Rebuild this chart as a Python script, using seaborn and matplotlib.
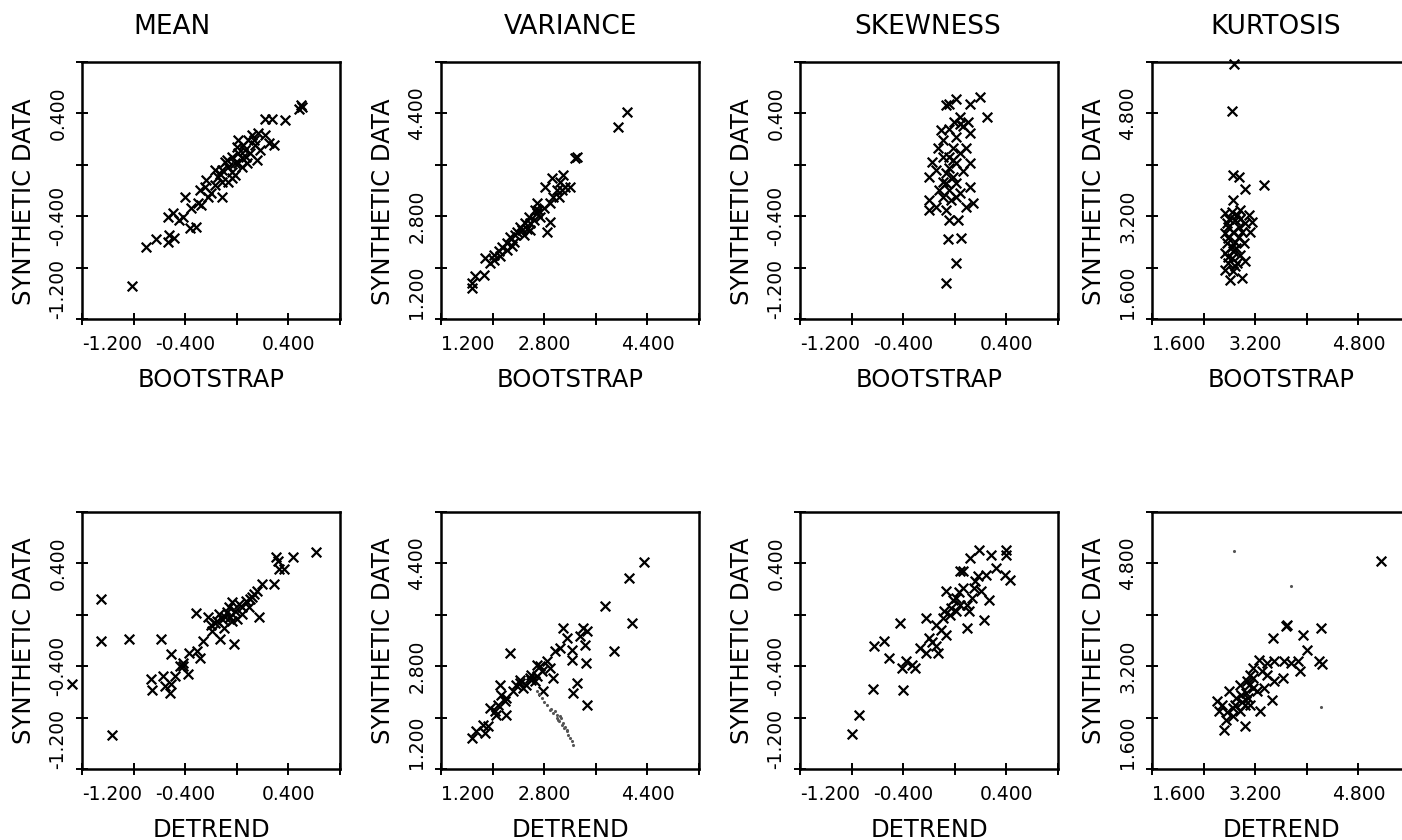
import numpy as np
import pandas as pd
import seaborn as sns
import matplotlib
matplotlib.use("Agg")
import matplotlib.pyplot as plt
from matplotlib import font_manager

# text
stats = ["MEAN", "VARIANCE", "SKEWNESS", "KURTOSIS"]
methods = ["BOOTSTRAP", "DETREND"]
ylabel = "SYNTHETIC DATA"

# ticks per statistic (first and last tick are the axis limits)
ticks = {
    "MEAN": [-1.2, -0.8, -0.4, 0.0, 0.4, 0.8],
    "VARIANCE": [1.2, 2.0, 2.8, 3.6, 4.4, 5.2],
    "SKEWNESS": [-1.2, -0.8, -0.4, 0.0, 0.4, 0.8],
    "KURTOSIS": [1.6, 2.4, 3.2, 4.0, 4.8, 5.6],
}
tick_labels = {
    "MEAN": ["-1.200", "", "-0.400", "", "0.400", ""],
    "VARIANCE": ["1.200", "", "2.800", "", "4.400", ""],
    "SKEWNESS": ["-1.200", "", "-0.400", "", "0.400", ""],
    "KURTOSIS": ["1.600", "", "3.200", "", "4.800", ""],
}

# (x, y) pairs
mean_boot = [
    (-0.809, -0.941), (-0.705, -0.636), (-0.627, -0.579), (-0.535, -0.597), (-0.523, -0.545),
    (-0.483, -0.571), (-0.535, -0.403), (-0.496, -0.377), (-0.418, -0.403), (-0.405, -0.248),
    (-0.366, -0.494), (-0.314, -0.481), (-0.353, -0.339), (-0.301, -0.300), (-0.275, -0.313),
    (-0.288, -0.196), (-0.236, -0.119), (-0.197, -0.222), (-0.171, -0.157), (-0.118, -0.248),
    (-0.144, -0.093), (-0.118, -0.041), (-0.092, 0.024), (-0.066, -0.015), (-0.040, -0.106),
    (-0.014, 0.011), (-0.040, 0.063), (0.012, 0.088), (0.038, 0.050), (-0.001, 0.140),
    (0.064, 0.114), (0.090, 0.192), (0.116, 0.231), (0.012, 0.192), (0.077, 0.011),
    (0.103, 0.088), (0.142, 0.153), (0.168, 0.244), (0.181, 0.114), (0.220, 0.231),
    (0.246, 0.166), (0.285, 0.153), (0.220, 0.360), (0.272, 0.360), (0.377, 0.347),
    (0.494, 0.463), (0.481, 0.437), (0.507, 0.450), (-0.118, -0.132), (-0.223, -0.248),
    (-0.066, -0.132), (0.038, -0.015), (-0.014, -0.080), (-0.171, -0.041), (0.155, 0.037),
    (-0.079, 0.037), (-0.040, -0.054), (0.012, 0.011), (0.051, 0.153),
    (-0.250, -0.170), (-0.130, -0.070), (0.070, 0.060), (0.130, 0.190), (-0.450, -0.430),
]
var_boot = [
    (1.680, 1.681), (1.680, 1.759), (1.732, 1.862), (1.861, 1.888), (1.886, 2.147),
    (1.964, 2.069), (2.015, 2.121), (2.093, 2.251), (2.144, 2.328), (2.119, 2.173),
    (2.222, 2.380), (2.273, 2.483), (2.325, 2.406), (2.377, 2.561), (2.428, 2.639),
    (2.480, 2.509), (2.506, 2.690), (2.557, 2.794), (2.583, 2.587), (2.635, 2.742),
    (2.661, 2.897), (2.686, 3.001), (2.738, 2.794), (2.790, 2.923), (2.815, 3.260),
    (2.841, 2.561), (2.893, 2.716), (2.893, 3.001), (2.944, 3.104), (2.996, 3.208),
    (2.919, 3.389), (3.048, 3.337), (3.099, 3.441), (3.125, 3.260), (3.203, 3.260),
    (3.306, 3.725), (3.280, 3.700), (3.951, 4.191), (4.080, 4.424), (2.583, 2.690),
    (2.454, 2.587), (2.222, 2.276), (2.351, 2.509), (2.686, 2.846), (2.015, 2.199),
    (3.022, 3.104), (3.073, 3.208), (2.300, 2.330), (2.530, 2.600), (2.710, 2.900),
]
skew_boot = [
    (-0.068, -0.921), (0.011, -0.765), (-0.055, -0.579), (0.050, -0.571), (-0.042, -0.429),
    (0.024, -0.429), (-0.068, -0.351), (-0.200, -0.351), (-0.147, -0.326), (0.090, -0.326),
    (0.142, -0.300), (-0.200, -0.274), (-0.095, -0.248), (0.011, -0.248), (-0.042, -0.196),
    (0.116, -0.170), (-0.200, -0.093), (-0.095, -0.132), (-0.016, -0.093), (-0.147, -0.041),
    (-0.042, -0.028), (-0.174, 0.024), (0.011, 0.011), (0.116, 0.011), (-0.095, 0.063),
    (0.037, 0.088), (-0.134, 0.127), (-0.016, 0.127), (0.090, 0.127), (-0.095, 0.192),
    (0.011, 0.218), (0.116, 0.244), (-0.108, 0.270), (-0.042, 0.282), (0.037, 0.321),
    (0.103, 0.334), (0.037, 0.373), (-0.068, 0.463), (-0.042, 0.476), (0.011, 0.515),
    (0.116, 0.476), (0.195, 0.528), (0.248, 0.373), (-0.042, 0.063), (-0.016, 0.037),
    (-0.068, -0.144), (0.011, -0.144), (-0.029, -0.274), (0.037, -0.222), (-0.068, -0.067),
    (-0.120, -0.200), (0.060, 0.300), (-0.010, 0.330), (0.060, -0.050),
]
kurt_boot = [
    (2.879, 5.574), (2.847, 4.834), (2.863, 3.841), (2.942, 3.815), (3.037, 3.618),
    (3.337, 3.686), (2.863, 3.453), (2.732, 3.246), (2.837, 3.272), (2.968, 3.297),
    (3.100, 3.220), (3.153, 3.116), (2.758, 3.090), (2.889, 3.142), (3.047, 3.090),
    (2.732, 2.935), (2.863, 2.961), (2.995, 2.961), (3.126, 2.961), (2.758, 2.780),
    (2.889, 2.806), (3.021, 2.780), (2.732, 2.625), (2.863, 2.651), (2.968, 2.599),
    (2.784, 2.469), (2.916, 2.469), (3.047, 2.495), (2.732, 2.366), (2.863, 2.340),
    (2.810, 2.211), (2.995, 2.237), (2.837, 2.728), (2.942, 2.883), (2.784, 3.038),
    (2.916, 3.220), (2.784, 2.858), (2.942, 3.038), (2.837, 2.547),
    (2.800, 3.150), (2.900, 2.700), (2.780, 2.560), (2.880, 2.420), (2.960, 3.160),
]
mean_detr = [
    (-1.051, 0.123), (-1.051, -0.203), (-0.834, -0.190), (-0.591, -0.190), (-1.278, -0.541),
    (-0.965, -0.932), (-0.664, -0.502), (-0.659, -0.588), (-0.573, -0.476), (-0.560, -0.554),
    (-0.520, -0.606), (-0.507, -0.541), (-0.481, -0.476), (-0.513, -0.302), (-0.442, -0.398),
    (-0.416, -0.372), (-0.382, -0.463), (-0.371, -0.294), (-0.311, -0.281), (-0.285, -0.333),
    (-0.259, -0.203), (-0.314, 0.011), (-0.225, -0.020), (-0.194, -0.125), (-0.167, -0.060),
    (-0.141, 0.006), (-0.128, -0.190), (-0.102, -0.099), (-0.089, -0.020), (-0.063, 0.058),
    (-0.037, -0.047), (-0.024, -0.229), (-0.011, 0.032), (0.016, 0.084), (0.042, 0.006),
    (0.068, 0.110), (0.094, 0.058), (0.120, 0.136), (0.159, 0.188), (0.172, -0.020),
    (0.198, 0.240), (0.290, 0.240), (0.303, 0.448), (0.316, 0.422), (0.329, 0.357),
    (0.368, 0.357), (0.434, 0.448), (0.617, 0.487), (-0.115, -0.033), (-0.050, -0.020),
    (0.002, -0.033), (-0.076, 0.019), (-0.037, 0.097), (0.133, 0.162),
    (-0.420, -0.400), (-0.150, -0.050), (0.040, 0.060), (0.100, 0.120), (-0.200, -0.080),
]
var_detr = [
    (1.683, 1.682), (1.745, 1.786), (1.875, 1.760), (1.927, 1.864), (1.953, 2.149),
    (2.057, 2.046), (2.109, 2.513), (2.187, 2.253), (2.213, 2.046), (2.265, 3.005),
    (2.135, 2.357), (2.317, 2.409), (2.369, 2.513), (2.421, 2.590), (2.525, 2.513),
    (2.603, 2.668), (2.655, 2.564), (2.681, 2.824), (2.759, 2.720), (2.784, 2.409),
    (2.836, 2.876), (2.940, 2.616), (2.966, 3.031), (3.044, 3.083), (3.096, 3.395),
    (3.148, 3.239), (3.226, 2.902), (3.226, 3.057), (3.252, 2.383), (3.304, 2.539),
    (3.356, 3.265), (3.408, 3.395), (3.434, 3.135), (3.450, 2.850), (3.460, 3.343),
    (3.460, 2.201), (3.746, 3.732), (3.875, 3.031), (4.109, 4.173), (4.161, 3.472),
    (4.343, 4.422), (1.849, 1.890), (2.031, 2.097), (2.213, 2.305), (2.473, 2.461),
    (2.577, 2.616), (2.681, 2.642), (2.889, 2.772), (2.420, 2.540), (2.600, 2.580),
    (2.740, 2.800), (2.090, 2.200),
]
# faint dotted streak under the variance/detrend cloud
var_detr_dots = [
    (2.681, 2.409), (2.720, 2.360), (2.759, 2.305), (2.800, 2.250), (2.836, 2.201),
    (2.888, 2.123), (2.940, 2.072), (2.992, 1.994), (3.034, 1.942), (3.070, 1.890),
    (3.112, 1.838), (3.148, 1.786), (3.174, 1.734), (3.200, 1.682), (3.226, 1.631),
    (3.242, 1.579), (2.992, 2.046), (3.044, 2.020), (3.096, 1.916), (2.966, 2.097),
    (3.018, 1.968), (3.130, 1.860), (3.160, 1.800), (2.910, 2.140), (3.060, 1.990),
]
skew_detr = [
    (-0.795, -0.925), (-0.741, -0.782), (-0.632, -0.575), (-0.400, -0.583), (-0.627, -0.245),
    (-0.552, -0.206), (-0.512, -0.336), (-0.421, -0.064), (-0.413, -0.414), (-0.381, -0.362),
    (-0.333, -0.388), (-0.307, -0.414), (-0.267, -0.258), (-0.227, -0.297), (-0.221, -0.025),
    (-0.200, -0.181), (-0.147, -0.245), (-0.133, -0.297), (-0.147, -0.077), (-0.107, -0.116),
    (-0.080, 0.028), (-0.067, -0.155), (-0.067, 0.183), (-0.040, -0.005), (-0.013, 0.118),
    (0.013, 0.028), (0.040, 0.079), (0.040, 0.338), (0.067, 0.209), (0.093, -0.103),
    (0.107, 0.028), (0.120, 0.442), (0.133, 0.131), (0.160, 0.260), (0.187, 0.507),
    (0.200, 0.183), (0.227, -0.038), (0.240, 0.312), (0.267, 0.118), (0.280, 0.468),
    (0.320, 0.364), (0.387, 0.312), (0.400, 0.507), (0.400, 0.468), (0.427, 0.273),
    (0.013, 0.131), (-0.027, 0.053), (-0.093, -0.025), (0.093, 0.079), (0.147, 0.209),
    (0.067, 0.338), (-0.180, -0.210), (0.030, 0.180), (0.180, 0.300),
]
kurt_detr = [
    (5.157, 4.832), (3.691, 3.846), (3.680, 3.820), (3.477, 3.639), (3.947, 3.691),
    (4.224, 3.795), (4.000, 3.457), (4.240, 3.234), (4.187, 3.276), (3.867, 3.276),
    (3.893, 3.120), (3.760, 3.250), (3.653, 3.276), (3.493, 3.276), (3.387, 3.250),
    (3.253, 3.302), (3.627, 3.016), (3.493, 2.964), (3.467, 2.679), (3.387, 3.068),
    (3.307, 3.120), (3.173, 3.172), (3.120, 3.068), (3.067, 2.964), (2.960, 2.913),
    (3.280, 2.498), (3.173, 2.861), (3.093, 2.705), (3.040, 2.264), (2.720, 2.212),
    (2.613, 2.653), (2.640, 2.498), (2.747, 2.368), (2.800, 2.809), (2.880, 2.601),
    (2.960, 2.498), (2.907, 2.705), (3.040, 2.601), (2.853, 2.420), (3.227, 2.809),
    (3.333, 2.861), (2.987, 2.757), (3.120, 2.601), (2.693, 2.601), (3.173, 3.016),
    (2.850, 2.550), (2.990, 2.650), (3.100, 2.900), (2.760, 2.480), (3.060, 2.780),
]
kurt_detr_dots = [(4.213, 2.560), (3.760, 4.453), (2.869, 5.000)]

panels = {
    ("BOOTSTRAP", "MEAN"): mean_boot, ("BOOTSTRAP", "VARIANCE"): var_boot,
    ("BOOTSTRAP", "SKEWNESS"): skew_boot, ("BOOTSTRAP", "KURTOSIS"): kurt_boot,
    ("DETREND", "MEAN"): mean_detr, ("DETREND", "VARIANCE"): var_detr,
    ("DETREND", "SKEWNESS"): skew_detr, ("DETREND", "KURTOSIS"): kurt_detr,
}
dots = {("DETREND", "VARIANCE"): var_detr_dots, ("DETREND", "KURTOSIS"): kurt_detr_dots}

sns.set_style("white")
names = {f.name for f in font_manager.fontManager.ttflist}
if "Liberation Sans Narrow" in names:
    face = "Liberation Sans Narrow"
    tick_fs, lab_fs, title_fs = 17, 20, 22
else:
    face = "DejaVu Sans"
    tick_fs, lab_fs, title_fs = 13.5, 17.5, 19
plt.rcParams["font.family"] = [face, "DejaVu Sans"]
plt.rcParams["text.color"] = "black"
plt.rcParams["axes.labelcolor"] = "black"

W, H = 1402, 840
fig = plt.figure(figsize=(W / 100, H / 100), dpi=100)
fig.patch.set_facecolor("white")

col_left = [82, 441, 800, 1152]
row_top = [62, 512]
aw, ah = 258, 257
title_x = [172, 570, 928, 1276]

for r, method in enumerate(methods):
    for c, stat in enumerate(stats):
        left = col_left[c] / W
        bottom = (H - row_top[r] - ah) / H
        ax = fig.add_axes([left, bottom, aw / W, ah / H])
        df = pd.DataFrame(panels[(method, stat)], columns=["x", "y"])
        sns.scatterplot(data=df, x="x", y="y", ax=ax, marker="x", color="black",
                        s=48, linewidth=1.6, clip_on=False)
        if (method, stat) in dots:
            dd = pd.DataFrame(dots[(method, stat)], columns=["x", "y"])
            sns.scatterplot(data=dd, x="x", y="y", ax=ax, marker="o", color="#555555",
                            s=5, linewidth=0)
        t = ticks[stat]
        ax.set_xlim(t[0], t[-1])
        ax.set_ylim(t[0], t[-1])
        ax.set_xticks(t, tick_labels[stat], fontsize=tick_fs)
        ax.set_yticks(t, tick_labels[stat], fontsize=tick_fs, rotation=90, va="center")
        ax.get_xticklabels()[0].set_horizontalalignment("left")
        ax.get_yticklabels()[0].set_verticalalignment("bottom")
        ax.tick_params(bottom=True, left=True, direction="inout", length=9, width=1.4,
                       color="black", labelcolor="black")
        ax.tick_params(axis="x", pad=7)
        ax.tick_params(axis="y", pad=6)
        for sp in ax.spines.values():
            sp.set_visible(True)
            sp.set_color("black")
            sp.set_linewidth(1.8)
        ax.set_xlabel(method, fontsize=lab_fs)
        ax.set_ylabel(ylabel, fontsize=lab_fs)
        ax.xaxis.set_label_coords(0.5, -0.19)
        ax.yaxis.set_label_coords(-0.18, 0.455 if r == 0 else 0.5)
        if r == 0:
            fig.text(title_x[c] / W, 1 - 27 / H, stat, fontsize=title_fs,
                     ha="center", va="center")

fig.savefig("out.png", dpi=100, facecolor="white")
